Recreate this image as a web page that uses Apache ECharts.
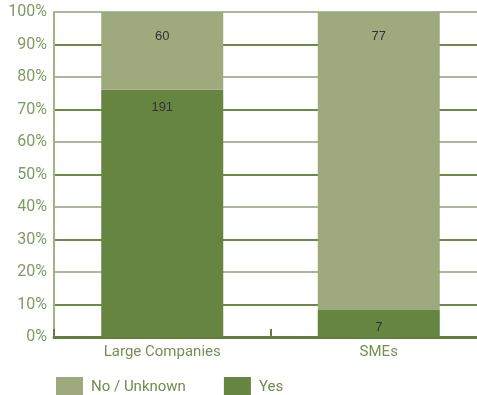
<!DOCTYPE html>
<html>
<head>
<meta charset="utf-8">
<script src="https://cdn.jsdelivr.net/npm/echarts@6/dist/echarts.min.js"></script>
<style>
  html, body { margin: 0; padding: 0; background: #fff; }
  #chart { width: 477px; height: 395px; }
</style>
</head>
<body>
<div id="chart"></div>
<script>
// Respondent counts per company size
const categories = ['Large Companies', 'SMEs'];
const yesCounts = [191, 7];
const noUnknownCounts = [60, 77];
const yTickLabels = ['0%', '10%', '20%', '30%', '40%', '50%', '60%', '70%', '80%', '90%', '100%'];

// Convert counts into shares of each category total (100% stacked)
const totals = categories.map((_, i) => yesCounts[i] + noUnknownCounts[i]);
const yesShare = yesCounts.map((v, i) => ({ value: v / totals[i] * 100, count: v }));
const noShare = noUnknownCounts.map((v, i) => ({ value: v / totals[i] * 100, count: v }));

const FONT = 'Roboto';
const chart = echarts.init(document.getElementById('chart'));
chart.setOption({
  animation: false,
  // plot area runs past the right edge of the canvas
  grid: { left: 54, width: 433, top: 12, height: 325, containLabel: false, outerBoundsMode: 'none' },
  legend: {
    left: 56,
    top: 377,
    padding: 0,
    itemWidth: 27,
    itemHeight: 20,
    itemGap: 38,
    icon: 'rect',
    textStyle: { color: '#6f8c4e', fontSize: 15, fontFamily: FONT, padding: [0, 0, 0, 3] },
    data: ['No / Unknown', 'Yes']
  },
  xAxis: {
    type: 'category',
    data: categories,
    axisLine: { lineStyle: { color: '#5f7f3b', width: 3 } },
    axisTick: { show: true, inside: true, length: 8, lineStyle: { color: '#5f7f3b', width: 2 } },
    axisLabel: { color: '#739152', fontSize: 15, fontFamily: FONT, margin: 8 }
  },
  yAxis: {
    type: 'value',
    min: 0,
    max: 100,
    interval: 10,
    axisLine: { show: true, lineStyle: { color: '#9fb384', width: 2 } },
    axisTick: { show: false },
    axisLabel: {
      color: '#7f9a63',
      fontSize: 16,
      fontFamily: FONT,
      margin: 7,
      formatter: (v) => yTickLabels[Math.round(v / 10)]
    },
    splitLine: {
      show: true,
      lineStyle: { color: ['#a9b995', '#6a8a45'], width: 2 }
    }
  },
  series: [
    {
      name: 'Yes',
      type: 'bar',
      stack: 'total',
      barWidth: 122,
      itemStyle: { color: '#658541' },
      data: yesShare,
      label: {
        show: true,
        position: 'insideTop',
        distance: 11,
        color: '#333',
        fontSize: 13,
        fontFamily: 'Liberation Sans',
        formatter: (p) => p.data.count
      }
    },
    {
      name: 'No / Unknown',
      type: 'bar',
      stack: 'total',
      barWidth: 122,
      itemStyle: { color: '#9eaa7d' },
      data: noShare,
      label: {
        show: true,
        position: 'insideTop',
        distance: 18,
        color: '#333',
        fontSize: 13,
        fontFamily: 'Liberation Sans',
        formatter: (p) => p.data.count
      }
    }
  ]
});
</script>
</body>
</html>
